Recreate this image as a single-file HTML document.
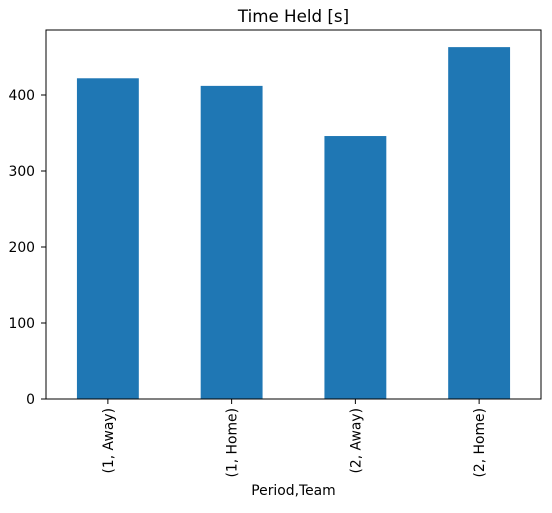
<!DOCTYPE html>
<html><head><meta charset="utf-8"><style>
body{margin:0;background:#fff;}
svg text{font-family:"DejaVu Sans","Liberation Sans",sans-serif;fill:#000;}
</style></head><body>
<svg id="chart" width="552" height="508" viewBox="0 0 552 508">
<rect width="552" height="508" fill="#fff"/>
<text x="293.5" y="22" font-size="16.7" text-anchor="middle">Time Held [s]</text>
<g id="bars"></g>
<g id="yticks"></g>
<g id="xticks"></g>
<rect x="46" y="30" width="495" height="369" fill="none" stroke="#000" stroke-width="1"/>
<text x="293.5" y="495" font-size="13.9" text-anchor="middle">Period,Team</text>
</svg>
<script>
const categories = ["(1, Away)", "(1, Home)", "(2, Away)", "(2, Home)"];
const values = [422, 412, 346, 463];
const yTicks = [0, 100, 200, 300, 400];
const NS = "http://www.w3.org/2000/svg";
const L = 46, R = 541, T = 30, B = 399;
const yScale = v => B - v * 0.76;
const step = (R - L) / categories.length;
const xCenter = i => L + step * (i + 0.5);
const bw = step * 0.5;
const bars = document.getElementById("bars");
values.forEach((v, i) => {
  const r = document.createElementNS(NS, "rect");
  r.setAttribute("x", xCenter(i) - bw / 2);
  r.setAttribute("y", yScale(v));
  r.setAttribute("width", bw);
  r.setAttribute("height", B - yScale(v));
  r.setAttribute("fill", "#1f77b4");
  
  
  bars.appendChild(r);
});
const yt = document.getElementById("yticks");
yTicks.forEach(t => {
  const y = yScale(t);
  const l = document.createElementNS(NS, "line");
  l.setAttribute("x1", L - 5); l.setAttribute("x2", L);
  l.setAttribute("y1", y); l.setAttribute("y2", y);
  l.setAttribute("stroke", "#000");
  
  
  yt.appendChild(l);
  const tx = document.createElementNS(NS, "text");
  tx.setAttribute("x", L - 11); tx.setAttribute("y", y + 5);
  tx.setAttribute("font-size", "13.9"); tx.setAttribute("text-anchor", "end");
  tx.textContent = t;
  
  
  yt.appendChild(tx);
});
const xt = document.getElementById("xticks");
categories.forEach((c, i) => {
  const x = xCenter(i);
  const l = document.createElementNS(NS, "line");
  l.setAttribute("x1", x); l.setAttribute("x2", x);
  l.setAttribute("y1", B); l.setAttribute("y2", B + 5);
  l.setAttribute("stroke", "#000");
  
  
  xt.appendChild(l);
  const tx = document.createElementNS(NS, "text");
  tx.setAttribute("transform", `translate(${x + 5},${B + 9}) rotate(-90)`);
  tx.setAttribute("font-size", "13.9"); tx.setAttribute("text-anchor", "end");
  tx.textContent = c;
  
  
  xt.appendChild(tx);
});
</script>
</body></html>
